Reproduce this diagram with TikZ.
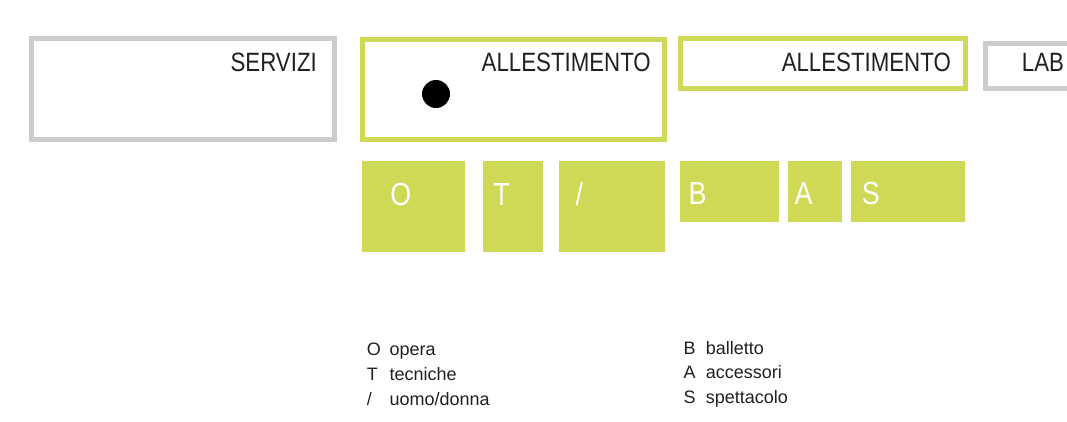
\documentclass[tikz,border=0pt]{standalone}
\usepackage{fontspec}
\setmainfont{Liberation Sans}
\newfontfamily\narrowfont[FakeStretch=0.84]{Liberation Sans}
\definecolor{lime}{RGB}{208,217,85}
\definecolor{framegray}{RGB}{204,204,204}
\definecolor{ink}{RGB}{35,31,32}

\tikzset{
  area/.style={draw=#1, line width=5pt, minimum width=300pt, inner sep=0pt},
  areaname/.style={font=\narrowfont\fontsize{26.5}{30}\selectfont, text=ink, inner sep=0pt},
  tab/.style={fill=lime, inner sep=0pt, minimum height=#1},
  tabletter/.style={font=\narrowfont\fontsize{32}{36}\selectfont, text=white, inner sep=0pt},
  legend/.style={font=\fontsize{18}{20}\selectfont, text=ink, inner sep=0pt, anchor=base west}
}

\begin{document}
\begin{tikzpicture}[x=1pt,y=-1pt]
        \useasboundingbox (0,0) rectangle (1067,421);
        \clip (0,0) rectangle (1067,421);

        % Top row of areas
        \node[area=framegray, minimum width=303pt, minimum height=100.4pt] (servizi) at (183,89) {};
        \node[areaname, anchor=base east] (servizilbl) at (317,71) {SERVIZI};

        \node[area=lime, minimum width=302pt, minimum height=100pt] (allest1) at (513,89) {};
        \node[areaname, anchor=base east] (allest1lbl) at (651,71) {ALLESTIMENTO};
        \node[circle, fill=black, minimum size=28pt, inner sep=0pt] (dot) at (436,94) {};

        \node[area=lime, minimum width=285pt, minimum height=50.2pt] (allest2) at (822.5,63.6) {};
        \node[areaname, anchor=base east] (allest2lbl) at (951,71) {ALLESTIMENTO};

        \node[area=framegray, minimum width=300pt, minimum height=45.6pt] (lab) at (1135.5,66) {};
        \node[areaname, anchor=base west] (lablbl) at (1021.7,71) {LAB};

        % Tabs under the first area
        \node[tab=90.7pt, minimum width=103.3pt] (tabO) at (413.35,206.35) {};
        \node[tab=90.7pt, minimum width=59.4pt] (tabT) at (513,206.35) {};
        \node[tab=90.7pt, minimum width=105.7pt] (tabU) at (612.15,206.35) {};
        \node[tabletter, anchor=base] (lblO) at (400.7,205) {O};
        \node[tabletter, anchor=base] (lblT) at (501.7,205) {T};
        \node[tabletter, anchor=base] (lblU) at (579.3,205) {/};

        % Tabs under the second area
        \node[tab=61.3pt, minimum width=99.3pt] (tabB) at (729.65,191.65) {};
        \node[tab=61.3pt, minimum width=54pt] (tabA) at (815.3,191.65) {};
        \node[tab=61.3pt, minimum width=114.3pt] (tabS) at (908.15,191.65) {};
        \node[tabletter, anchor=base west] (lblB) at (688.3,204.3) {B};
        \node[tabletter, anchor=base west] (lblA) at (794.3,204.3) {A};
        \node[tabletter, anchor=base west] (lblS) at (861.7,204.3) {S};

        % Legend
        \node[legend] (keyO) at (366.7,355) {O};
        \node[legend] (txtO) at (389.3,355) {opera};
        \node[legend] (keyT) at (366.7,380.5) {T};
        \node[legend] (txtT) at (389.3,380.5) {tecniche};
        \node[legend] (keyU) at (366.7,405.5) {/};
        \node[legend] (txtU) at (389.3,405.5) {uomo/donna};

        \node[legend] (keyB) at (683.3,354) {B};
        \node[legend] (txtB) at (705.7,354) {balletto};
        \node[legend] (keyA) at (683.3,378.5) {A};
        \node[legend] (txtA) at (705.7,378.5) {accessori};
        \node[legend] (keyS) at (683.3,403) {S};
        \node[legend] (txtS) at (705.7,403) {spettacolo};
\end{tikzpicture}
\end{document}
